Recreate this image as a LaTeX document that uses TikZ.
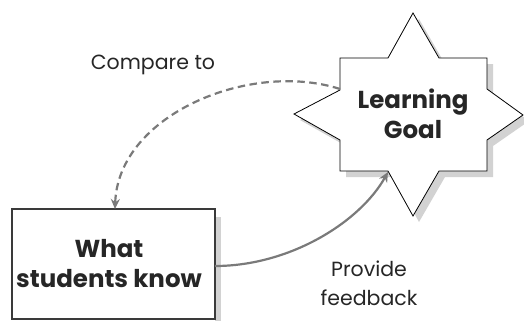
\documentclass[tikz,border=0pt]{standalone}
\usepackage{fontspec}
\setmainfont{Poppins}
\usetikzlibrary{arrows.meta}
\definecolor{arrowgray}{HTML}{7A7A7A}
\definecolor{shadowgray}{HTML}{D2D2D2}
\definecolor{boxline}{HTML}{3A3A3A}
\tikzset{
  lbl/.style={font=\fontsize{20.5}{29}\selectfont, text=black!85, inner sep=0pt},
  bold/.style={font=\fontsize{24.5}{30}\selectfont\bfseries, text=black!85, inner sep=0pt, align=center},
  conn/.style={draw=arrowgray, line width=2.2pt, -{Stealth[length=10pt,width=9pt]}},
  dashconn/.style={conn, dash pattern=on 7.5pt off 4.5pt},
}
\begin{document}
\begin{tikzpicture}[x=1pt,y=-1pt]
\useasboundingbox (0,0) rectangle (524,321);
% star shadow
\fill[shadowgray, shift={(6,6)}] (413,13) -- (439,58) -- (487,58) -- (487,89) -- (523,115) -- (487,140) -- (487,171) -- (439,171) -- (413,216) -- (388,171) -- (340,171) -- (340,140) -- (294,114) -- (340,90) -- (340,58) -- (388,58) -- cycle;
% star
\draw[fill=white, line width=0.8pt, line join=miter] (413,13) -- (439,58) -- (487,58) -- (487,89) -- (523,115) -- (487,140) -- (487,171) -- (439,171) -- (413,216) -- (388,171) -- (340,171) -- (340,140) -- (294,114) -- (340,90) -- (340,58) -- (388,58) -- cycle;
\coordinate (goalL) at (340,89);
\coordinate (goalB) at (388,172);
\node[bold] (goal) at (413,114) {Learning\\Goal};
% box shadow
\fill[shadowgray] (215,217) rectangle (221,321);
% box
\node[draw=boxline, line width=1.1pt, fill=white, minimum width=203pt, minimum height=110pt, inner sep=0pt] (know) at (113.5,264) {};
\node[bold] (knowtext) at (109,264) {What\\students know};
\coordinate (knowT) at (115,209);
\coordinate (knowR) at (215,266);
% connectors
\draw[dashconn] (goalL) .. controls (250,60) and (118,115) .. (knowT);
\draw[conn] (knowR) .. controls (290,266) and (360,222) .. (goalB);
% labels
\node[lbl, anchor=base] (cmp) at (153,70) {Compare to};
\node[lbl, align=center, anchor=north] (fb) at (369,261) {Provide\\feedback};
\end{tikzpicture}
\end{document}
